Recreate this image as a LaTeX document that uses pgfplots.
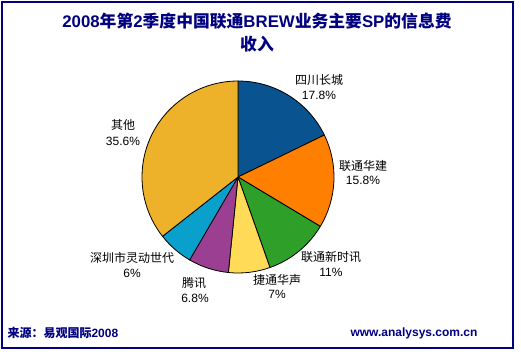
\documentclass[border=0pt]{standalone}
\usepackage{pgfplots}
\usepackage{pgfplotstable}
\pgfplotsset{compat=1.18}
\usepackage{fontspec}
\setmainfont{Liberation Sans}
\newfontfamily\cjk{Noto Sans CJK SC}
\newcommand\zh[1]{{\cjk #1}}
\definecolor{navyt}{HTML}{000080}
\definecolor{cA}{HTML}{0A5391}
\definecolor{cB}{HTML}{FF8000}
\definecolor{cC}{HTML}{2EA02A}
\definecolor{cD}{HTML}{FFDB58}
\definecolor{cE}{HTML}{9A3F91}
\definecolor{cF}{HTML}{0AA0CC}
\definecolor{cG}{HTML}{EEB12A}
\pgfplotstableread{
pct  col
17.8 cA
15.8 cB
11   cC
7    cD
6.8  cE
6    cF
35.6 cG
}\piedata
\begin{document}
\begin{tikzpicture}
\begin{axis}[at={(0,0)}, anchor=south west, x=1pt, y=1pt,
  xmin=0, xmax=521, ymin=0, ymax=354, hide axis, clip=false, scale only axis]
\path[fill=white] (axis cs:0,0) rectangle (axis cs:521,354);
\draw[navyt, line width=1.5pt] (axis cs:2,6) rectangle (axis cs:513,352);
\def\cum{0}
\pgfplotsforeachungrouped \i in {0,...,6}{%
  \pgfplotstablegetelem{\i}{pct}\of\piedata \let\p\pgfplotsretval
  \pgfplotstablegetelem{\i}{col}\of\piedata \let\cc\pgfplotsretval
  \pgfmathsetmacro\sa{90-3.6*\cum}%
  \pgfmathsetmacro\ea{90-3.6*(\cum+\p)}%
  \pgfmathsetmacro\cum{\cum+\p}%
  \edef\temp{\noexpand\filldraw[fill=\cc, draw=black, line width=0.8pt, line join=round] (axis cs:238,177) -- ++(\sa:96pt) arc[start angle=\sa, end angle=\ea, radius=96pt] -- cycle;}%
  \temp
}
% title
\node[navyt, font=\fontsize{16.8pt}{18pt}\selectfont\bfseries] at (axis cs:257,333) {2008\zh{年第}2\zh{季度中国联通}BREW\zh{业务主要}SP\zh{的信息费}};
\node[navyt, font=\fontsize{16.8pt}{18pt}\selectfont\bfseries] at (axis cs:257,310) {\zh{收入}};
% labels
\begin{scope}[font=\fontsize{12pt}{14pt}\selectfont]
\node at (axis cs:319,274) {\zh{四川长城}};
\node at (axis cs:319,259) {17.8\%};
\node at (axis cs:363,188) {\zh{联通华建}};
\node at (axis cs:363,174) {15.8\%};
\node at (axis cs:331,97) {\zh{联通新时讯}};
\node at (axis cs:331,82) {11\%};
\node at (axis cs:277,74) {\zh{捷通华声}};
\node at (axis cs:277,60) {7\%};
\node at (axis cs:194,71) {\zh{腾讯}};
\node at (axis cs:195,56) {6.8\%};
\node at (axis cs:132,96) {\zh{深圳市灵动世代}};
\node at (axis cs:132,81) {6\%};
\node at (axis cs:123,229) {\zh{其他}};
\node at (axis cs:123,213) {35.6\%};
\end{scope}
% footer
\node[navyt, anchor=west, font=\fontsize{12pt}{14pt}\selectfont\bfseries] at (axis cs:4,21) {\zh{来源：易观国际}2008};
\node[navyt, anchor=east, font=\fontsize{12pt}{14pt}\selectfont\bfseries] at (axis cs:481,21) {www.analysys.com.cn};
\end{axis}
\end{tikzpicture}
\end{document}
